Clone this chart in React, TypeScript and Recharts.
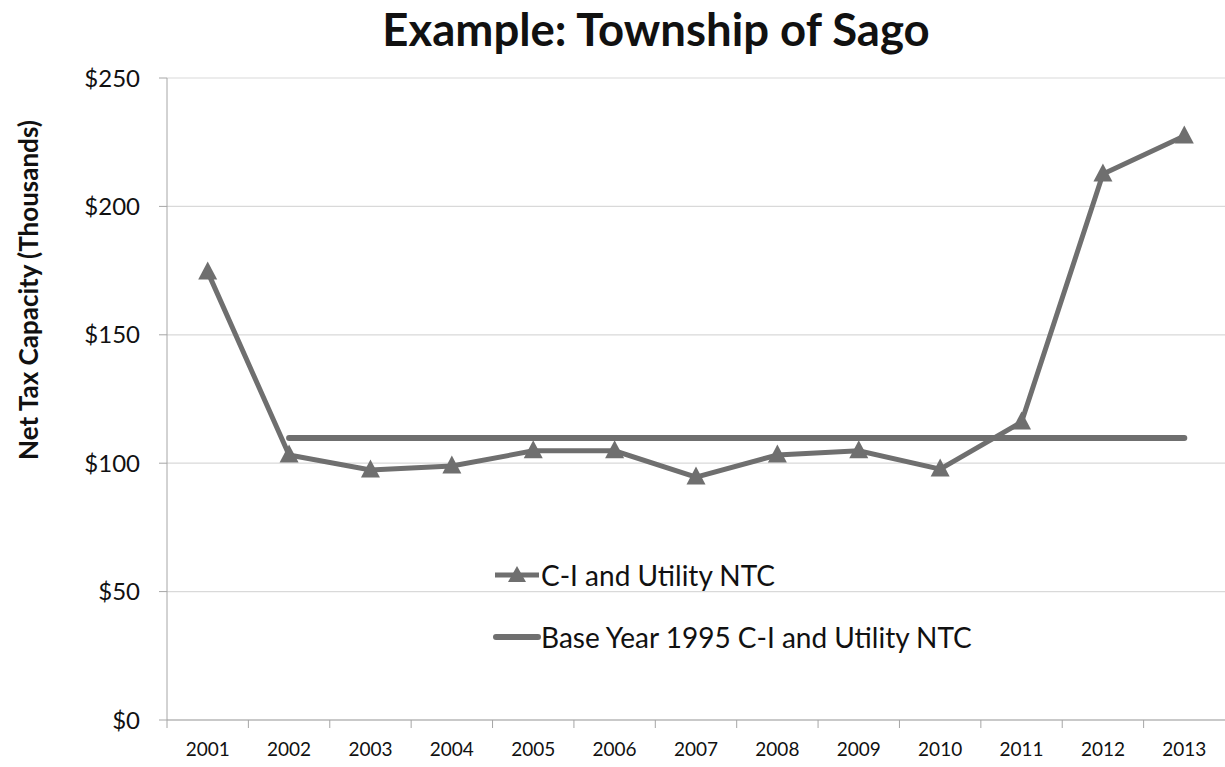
import React from 'react';
import { LineChart, Line, XAxis, YAxis, CartesianGrid } from 'recharts';

const years = ['2001', '2002', '2003', '2004', '2005', '2006', '2007', '2008', '2009', '2010', '2011', '2012', '2013'];
const ciUtilityNtc = [174.5, 103.2, 97.4, 98.9, 104.8, 104.8, 94.6, 103.2, 104.8, 97.7, 116, 212.6, 227.4];
const baseYearNtc = [null, 109.8, 109.8, 109.8, 109.8, 109.8, 109.8, 109.8, 109.8, 109.8, 109.8, 109.8, 109.8];
const yTicks = [0, 50, 100, 150, 200, 250];

const data = years.map((year, i) => ({
  year,
  ci: ciUtilityNtc[i],
  base: baseYearNtc[i],
}));

const LINE = '#6f6f6f';
const AXIS = '#a6a6a6';
const FONT = 'Lato, "Open Sans", sans-serif';
const X_TICK_GAP = 23;

const Triangle = (props: any) => {
  const { cx, cy } = props;
  if (cx == null || cy == null) return null;
  const s = 9.5;
  return (
    <path
      d={`M${cx},${cy - s - 1} L${cx + s},${cy + s - 2} L${cx - s},${cy + s - 2} Z`}
      fill={LINE}
    />
  );
};

// year label centred in its band, tick mark drawn on the band's left edge
const YearTick = (props: any) => {
  const { x, y, payload, width } = props;
  const half = payload?.offset || (width ? width / years.length / 2 : 0);
  const top = y - X_TICK_GAP;
  return (
    <g>
      <line x1={x - half} y1={top} x2={x - half} y2={top + 8} stroke={AXIS} strokeWidth={1} />
      <text x={x} y={y} dy="0.71em" textAnchor="middle" fill="#111" fontSize={19}>
        {payload.value}
      </text>
    </g>
  );
};

const LegendBox = () => (
  <div
    style={{
      position: 'absolute',
      left: 493,
      top: 544,
      fontFamily: FONT,
      fontSize: 28,
      color: '#111',
      lineHeight: '62px',
    }}
  >
    <div style={{ display: 'flex', alignItems: 'center' }}>
      <svg width={48} height={20}>
        <line x1={2} y1={10} x2={46} y2={10} stroke={LINE} strokeWidth={5} />
        <path d="M24,1 L33,17 L15,17 Z" fill={LINE} />
      </svg>
      <span>C-I and Utility NTC</span>
    </div>
    <div style={{ display: 'flex', alignItems: 'center' }}>
      <svg width={48} height={20}>
        <line x1={3} y1={10} x2={45} y2={10} stroke={LINE} strokeWidth={6} strokeLinecap="round" />
      </svg>
      <span>Base Year 1995 C-I and Utility NTC</span>
    </div>
  </div>
);

export default function App() {
  return (
    <div style={{ position: 'absolute', left: 0, top: 0, width: 1225, height: 767, background: '#fff' }}>
      <div
        style={{
          position: 'absolute',
          left: 656 - 400,
          width: 800,
          top: 1,
          textAlign: 'center',
          fontFamily: FONT,
          fontWeight: 700,
          fontSize: 45.5,
          color: '#111',
        }}
      >
        Example: Township of Sago
      </div>
      <div
        style={{
          position: 'absolute',
          left: 28 - 250,
          top: 290 - 20,
          width: 500,
          height: 40,
          lineHeight: '40px',
          textAlign: 'center',
          transform: 'rotate(-90deg)',
          fontFamily: FONT,
          fontWeight: 700,
          fontSize: 26,
          color: '#111',
        }}
      >
        Net Tax Capacity (Thousands)
      </div>
      <LineChart
        width={1225}
        height={767}
        data={data}
        margin={{ top: 78, right: 0, bottom: 0, left: 0 }}
        style={{ fontFamily: FONT, position: 'absolute', left: 0, top: 0 }}
      >
        <CartesianGrid vertical={false} stroke="#d9d9d9" strokeWidth={1.2} />
        <XAxis
          dataKey="year"
          scale="band"
          height={47}
          stroke={AXIS}
          tickLine={false}
          tickSize={0}
          tick={<YearTick />}
          tickMargin={X_TICK_GAP}
          interval={0}
        />
        <YAxis
          width={167}
          domain={[0, 250]}
          ticks={yTicks}
          tickFormatter={(v: number) => `$${v}`}
          stroke={AXIS}
          tickSize={8}
          tickMargin={19}
          tick={{ fill: '#111', fontSize: 24 }}
        />
        <Line
          dataKey="base"
          name="Base Year 1995 C-I and Utility NTC"
          stroke={LINE}
          strokeWidth={6}
          strokeLinecap="round"
          dot={false}
          isAnimationActive={false}
        />
        <Line
          dataKey="ci"
          name="C-I and Utility NTC"
          stroke={LINE}
          strokeWidth={5}
          dot={<Triangle />}
          activeDot={false}
          isAnimationActive={false}
        />
      </LineChart>
      <LegendBox />
    </div>
  );
}
